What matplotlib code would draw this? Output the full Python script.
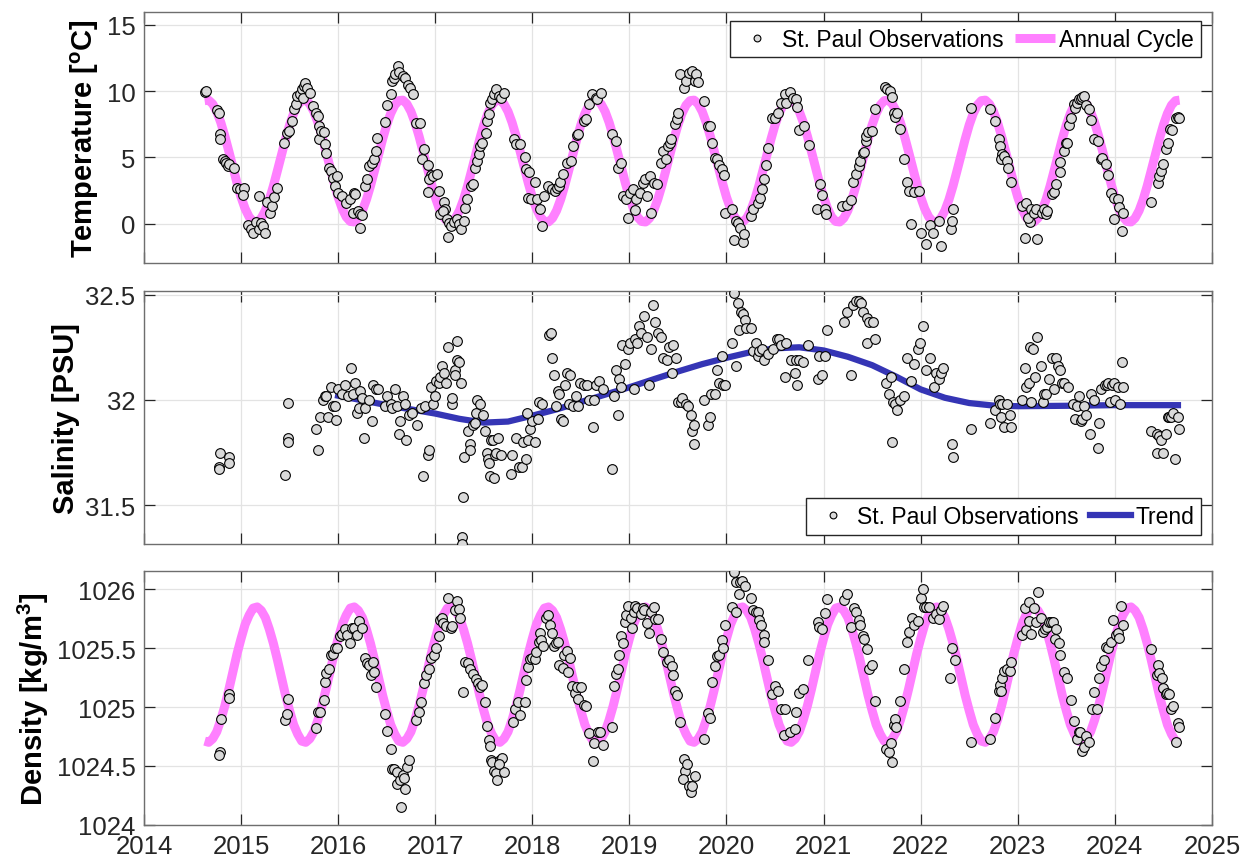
import matplotlib
matplotlib.use("Agg")
import matplotlib.pyplot as plt
import numpy as np

plt.rcParams['font.family'] = ['Liberation Sans', 'DejaVu Sans']
plt.rcParams['mathtext.fontset'] = 'custom'
plt.rcParams['mathtext.rm'] = 'Liberation Sans:bold'
plt.rcParams['mathtext.bf'] = 'Liberation Sans:bold'

# ---- temperature observations (decimal year, degC)
temp_t = [2014.63, 2014.64, 2014.755, 2014.77, 2014.78, 2014.78, 2014.81, 2014.83, 2014.85, 2014.865,
          2014.88, 2014.93, 2014.96, 2014.99, 2015.03, 2015.02, 2015.07, 2015.10, 2015.12, 2015.15,
          2015.18, 2015.21, 2015.23, 2015.25, 2015.18, 2015.27, 2015.30, 2015.32, 2015.34, 2015.37,
          2015.44, 2015.47, 2015.49, 2015.53, 2015.55, 2015.57, 2015.58, 2015.61, 2015.63, 2015.64,
          2015.65, 2015.66, 2015.68, 2015.71, 2015.74, 2015.77, 2015.79, 2015.80, 2015.80, 2015.82,
          2015.85, 2015.86, 2015.88, 2015.91, 2015.93, 2015.95, 2015.97, 2015.99, 2016.00, 2016.04,
          2016.08, 2016.12, 2016.16, 2016.17, 2016.15, 2016.20, 2016.23, 2016.25, 2016.23, 2016.28,
          2016.30, 2016.32, 2016.35, 2016.37, 2016.39, 2016.40, 2016.48, 2016.50, 2016.54, 2016.56,
          2016.58, 2016.59, 2016.62, 2016.63, 2016.67, 2016.69, 2016.72, 2016.74, 2016.77, 2016.80,
          2016.84, 2016.88, 2016.86, 2016.93, 2016.96, 2016.94, 2016.98, 2017.02, 2016.93, 2017.04,
          2017.09, 2017.10, 2017.05, 2017.08, 2017.12, 2017.14, 2017.16, 2017.19, 2017.22, 2017.24,
          2017.27, 2017.30, 2017.13, 2017.31, 2017.33, 2017.37, 2017.39, 2017.41, 2017.43, 2017.45,
          2017.46, 2017.48, 2017.52, 2017.53, 2017.55, 2017.56, 2017.59, 2017.61, 2017.63, 2017.66,
          2017.68, 2017.71, 2017.81, 2017.83, 2017.87, 2017.92, 2017.93, 2017.97, 2017.96, 2017.99,
          2018.03, 2018.05, 2018.08, 2018.10, 2018.12, 2018.16, 2018.20, 2018.23, 2018.25, 2018.28,
          2018.29, 2018.32, 2018.36, 2018.40, 2018.42, 2018.46, 2018.47, 2018.53, 2018.55, 2018.58,
          2018.62, 2018.66, 2018.67, 2018.71, 2018.82, 2018.86, 2018.88, 2018.91, 2018.93, 2018.97,
          2019.01, 2019.04, 2019.07, 2019.11, 2019.14, 2019.18, 2019.16, 2019.21, 2019.25, 2019.28,
          2018.99, 2019.06, 2019.22, 2019.33, 2019.35, 2019.38, 2019.40, 2019.42, 2019.43, 2019.47,
          2019.49, 2019.50, 2019.52, 2019.56, 2019.58, 2019.61, 2019.65, 2019.68, 2019.69, 2019.71,
          2019.77, 2019.81, 2019.83, 2019.85, 2019.88, 2019.90, 2019.92, 2019.95, 2019.97, 2019.98,
          2020.06, 2020.10, 2020.12, 2020.14, 2020.08, 2020.17, 2020.18, 2020.25, 2020.27, 2020.32,
          2020.35, 2020.37, 2020.39, 2020.41, 2020.43, 2020.47, 2020.50, 2020.53, 2020.56, 2020.60,
          2020.61, 2020.65, 2020.69, 2020.72, 2020.73, 2020.75, 2020.80, 2020.85, 2020.96, 2020.98,
          2020.93, 2021.01, 2021.03, 2021.19, 2021.24, 2021.28, 2021.30, 2021.33, 2021.36, 2021.38,
          2021.41, 2021.42, 2021.44, 2021.44, 2021.46, 2021.50, 2021.53, 2021.63, 2021.65, 2021.68,
          2021.70, 2021.73, 2021.74, 2021.76, 2021.79, 2021.83, 2021.86, 2021.88, 2021.93, 2021.98,
          2021.90, 2022.00, 2022.05, 2022.10, 2022.13, 2022.19, 2022.21, 2022.31, 2022.32, 2022.33,
          2022.52, 2022.71, 2022.77, 2022.81, 2022.82, 2022.84, 2022.83, 2022.86, 2022.89, 2022.90,
          2022.93, 2023.04, 2023.07, 2023.09, 2023.13, 2023.11, 2023.14, 2023.17, 2023.19, 2023.20,
          2023.25, 2023.27, 2023.29, 2023.30, 2023.35, 2023.37, 2023.39, 2023.44, 2023.44, 2023.48,
          2023.50, 2023.51, 2023.53, 2023.55, 2023.58, 2023.59, 2023.61, 2023.63, 2023.65, 2023.66,
          2023.68, 2023.70, 2023.73, 2023.75, 2023.79, 2023.83, 2023.86, 2023.87, 2023.91, 2023.93,
          2023.96, 2023.99, 2024.03, 2024.04, 2023.99, 2024.07, 2024.08, 2024.37, 2024.44, 2024.46,
          2024.48, 2024.50, 2024.53, 2024.55, 2024.57, 2024.59, 2024.63, 2024.65, 2024.66]
temp_v = [9.92, 10.0, 8.6, 8.37, 6.73, 6.36, 4.9, 4.72, 4.6, 4.35,
          4.47, 4.17, 2.71, 2.59, 2.71, 2.14, -0.13, -0.43, -0.68, 0.13,
          -0.43, 0.08, -0.18, -0.68, 2.09, 1.63, 0.83, 1.33, 2.04, 2.71,
          6.1, 6.86, 6.98, 7.74, 8.62, 9.0, 9.62, 9.8, 10.13, 9.5,
          10.38, 10.63, 10.25, 9.87, 8.87, 8.37, 8.12, 7.36, 6.36, 6.98,
          6.91, 5.98, 5.3, 4.22, 3.97, 3.47, 2.84, 3.59, 2.34, 2.09,
          1.58, 1.83, 2.34, 2.26, 0.83, 0.95, 0.7, 0.63, -0.3, 2.84,
          3.34, 4.35, 4.6, 4.85, 5.48, 6.48, 7.66, 8.92, 9.75, 10.75,
          11.0, 11.26, 11.93, 11.43, 11.13, 11.0, 10.5, 10.25, 9.8, 7.56,
          7.56, 5.65, 4.9, 4.4, 3.64, 3.34, 3.59, 3.72, 2.39, 2.46,
          1.63, 1.13, 0.7, 0.95, 0.33, 0.08, -0.18, 0.13, 0.33, -0.05,
          -0.38, 0.2, -1.0, 1.2, 1.83, 2.84, 2.96, 4.22, 4.72, 5.23,
          5.86, 6.1, 6.86, 7.74, 8.24, 9.12, 9.37, 9.75, 10.13, 9.62,
          9.5, 9.87, 6.36, 5.98, 5.98, 5.05, 4.1, 3.89, 1.96, 1.88,
          3.14, 1.83, 1.08, -0.18, 2.09, 2.84, 2.59, 2.46, 2.71, 2.84,
          3.14, 3.72, 4.6, 4.72, 5.85, 6.66, 6.73, 7.74, 7.86, 9.0,
          9.75, 9.5, 9.37, 9.87, 6.73, 6.23, 4.22, 4.6, 2.09, 1.83,
          2.34, 2.59, 1.83, 2.34, 3.09, 2.09, 3.34, 3.59, 3.09, 2.96,
          0.45, 1.03, 0.83, 4.6, 5.48, 4.85, 5.85, 6.1, 6.36, 7.49,
          7.86, 8.37, 11.26, 10.25, 10.75, 11.38, 11.5, 10.75, 11.26, 10.68,
          9.25, 7.36, 7.4, 6.06, 4.97, 4.85, 4.42, 4.1, 3.64, 0.83,
          1.08, 0.2, 0.03, -0.3, -1.23, -1.38, -0.8, 0.58, 1.08, 1.58,
          1.96, 2.59, 3.34, 4.42, 5.73, 8.0, 8.0, 8.37, 9.07, 9.75,
          9.12, 9.92, 9.5, 9.37, 8.82, 7.03, 7.36, 5.9, 2.96, 2.14,
          1.13, 1.13, 0.7, 1.33, 1.38, 1.76, 3.17, 3.72, 4.35, 4.72,
          5.3, 5.43, 6.23, 6.6, 6.9, 6.98, 8.67, 10.33, 10.18, 10.0,
          9.57, 8.37, 8.07, 8.32, 7.11, 4.9, 3.14, 2.46, 2.39, 2.46,
          -0.05, -0.68, -1.56, -0.13, -0.68, 0.2, -1.68, -0.43, 0.2, 1.13,
          8.74, 8.67, 7.74, 6.36, 5.85, 5.23, 4.85, 5.1, 4.72, 4.22,
          3.14, 1.33, -1.06, 1.53, 0.13, 0.45, 1.08, 0.83, 1.13, -1.18,
          0.83, 1.13, 0.7, 0.95, 2.21, 2.39, 2.96, 3.89, 4.65, 5.48,
          6.06, 6.06, 7.41, 8.0, 9.0, 8.74, 9.07, 9.37, 9.37, 9.57,
          9.62, 8.92, 8.67, 7.81, 6.41, 6.23, 4.9, 4.97, 4.47, 3.64,
          2.34, 1.96, 1.83, 1.28, 0.33, -0.55, 0.83, 1.63, 3.09, 3.59,
          3.97, 4.47, 5.6, 6.1, 7.11, 7.03, 8.0, 8.07, 8.0]

# annual cycles, values at half-month steps through the year
cycle_phase = [k / 24 for k in range(24)]
temp_cycle = [2.00, 1.13, 0.50, 0.16, 0.12, 0.41, 0.98, 1.81, 2.84, 4.00, 5.20, 6.37,
              7.44, 8.31, 8.94, 9.28, 9.32, 9.03, 8.46, 7.63, 6.60, 5.44, 4.24, 3.07]
dens_cycle = [1025.58, 1025.70, 1025.78, 1025.84, 1025.85, 1025.82, 1025.76, 1025.66,
              1025.54, 1025.40, 1025.25, 1025.10, 1024.97, 1024.85, 1024.77, 1024.71,
              1024.70, 1024.73, 1024.79, 1024.89, 1025.01, 1025.15, 1025.30, 1025.45]
cycle_start, cycle_end = 2014.62, 2024.67

# ---- salinity observations (PSU)
sal_t = [2014.78, 2014.77, 2014.775, 2014.88, 2014.88, 2015.45, 2015.48, 2015.48, 2015.48, 2015.77,
         2015.79, 2015.81, 2015.84, 2015.86, 2015.88, 2015.90, 2015.93, 2015.95, 2015.97, 2015.98,
         2016.00, 2016.04, 2016.07, 2016.10, 2016.13, 2016.15, 2016.17, 2016.19, 2016.21, 2016.23,
         2016.25, 2016.27, 2016.28, 2016.32, 2016.35, 2016.36, 2016.39, 2016.41, 2016.48, 2016.50,
         2016.54, 2016.56, 2016.59, 2016.61, 2016.63, 2016.64, 2016.67, 2016.69, 2016.70, 2016.73,
         2016.76, 2016.81, 2016.85, 2016.87, 2016.89, 2016.93, 2016.94, 2016.96, 2016.98, 2017.00,
         2017.01, 2017.04, 2017.05, 2017.07, 2017.09, 2017.11, 2017.13, 2017.17, 2017.17, 2017.20,
         2017.20, 2017.22, 2017.22, 2017.24, 2017.27, 2017.29, 2017.28, 2017.28, 2017.30, 2017.34,
         2017.36, 2017.36, 2017.39, 2017.41, 2017.42, 2017.43, 2017.46, 2017.49, 2017.51, 2017.53,
         2017.54, 2017.55, 2017.57, 2017.60, 2017.62, 2017.63, 2017.65, 2017.68, 2017.56, 2017.61,
         2017.78, 2017.79, 2017.83, 2017.86, 2017.89, 2017.90, 2017.93, 2017.96, 2017.98, 2018.00,
         2018.03, 2018.06, 2017.95, 2018.07, 2018.10, 2018.17, 2018.19, 2018.20, 2018.22, 2018.24,
         2018.26, 2018.27, 2018.30, 2018.32, 2018.34, 2018.36, 2018.38, 2018.39, 2018.42, 2018.45,
         2018.47, 2018.49, 2018.53, 2018.56, 2018.58, 2018.63, 2018.64, 2018.66, 2018.69, 2018.73,
         2018.82, 2018.84, 2018.86, 2018.88, 2018.89, 2018.91, 2018.95, 2018.92, 2018.99, 2019.01,
         2019.05, 2019.06, 2019.08, 2019.10, 2019.12, 2019.15, 2019.18, 2019.20, 2019.22, 2019.24,
         2019.26, 2019.29, 2019.33, 2019.35, 2019.39, 2019.41, 2019.44, 2019.45, 2019.48, 2019.50,
         2019.53, 2019.54, 2019.58, 2019.60, 2019.63, 2019.65, 2019.67, 2019.67, 2019.77, 2019.81,
         2019.83, 2019.84, 2019.88, 2019.90, 2019.92, 2019.95, 2019.96, 2019.98, 2020.06, 2020.08,
         2020.10, 2020.12, 2020.13, 2020.15, 2020.17, 2020.19, 2020.20, 2020.25, 2020.27, 2020.30,
         2020.32, 2020.34, 2020.37, 2020.39, 2020.43, 2020.48, 2020.52, 2020.54, 2020.56, 2020.60,
         2020.61, 2020.66, 2020.71, 2020.72, 2020.73, 2020.75, 2020.79, 2020.84, 2020.94, 2020.98,
         2020.95, 2021.01, 2021.04, 2021.21, 2021.24, 2021.28, 2021.30, 2021.33, 2021.36, 2021.39,
         2021.41, 2021.45, 2021.47, 2021.45, 2021.51, 2021.53, 2021.64, 2021.67, 2021.69, 2021.70,
         2021.71, 2021.74, 2021.76, 2021.79, 2021.83, 2021.86, 2021.90, 2021.93, 2021.97, 2021.99,
         2022.02, 2022.05, 2022.10, 2022.14, 2022.16, 2022.19, 2022.21, 2022.23, 2022.32, 2022.33,
         2022.52, 2022.71, 2022.77, 2022.81, 2022.82, 2022.83, 2022.84, 2022.86, 2022.89, 2022.92,
         2022.93, 2023.04, 2023.07, 2023.09, 2023.12, 2023.13, 2023.14, 2023.16, 2023.18, 2023.20,
         2023.24, 2023.26, 2023.27, 2023.29, 2023.32, 2023.35, 2023.37, 2023.39, 2023.41, 2023.44,
         2023.46, 2023.48, 2023.52, 2023.57, 2023.59, 2023.61, 2023.63, 2023.65, 2023.66, 2023.68,
         2023.70, 2023.74, 2023.75, 2023.79, 2023.83, 2023.84, 2023.86, 2023.90, 2023.92, 2023.93,
         2023.95, 2023.97, 2023.99, 2024.00, 2024.03, 2024.05, 2024.07, 2024.08, 2024.37, 2024.43,
         2024.43, 2024.46, 2024.48, 2024.50, 2024.53, 2024.55, 2024.56, 2024.58, 2024.60, 2024.62,
         2024.65, 2024.66]
sal_v = [31.75, 31.68, 31.67, 31.73, 31.70, 31.645, 31.985, 31.82, 31.80, 31.86,
         31.76, 31.92, 32.00, 32.02, 32.02, 31.92, 32.06, 31.97, 31.97, 31.905,
         32.05, 32.03, 32.07, 32.02, 32.15, 32.03, 32.08, 31.94, 31.96, 32.04,
         32.01, 31.82, 31.96, 32.00, 31.90, 32.07, 32.05, 32.05, 31.97, 32.02,
         31.98, 31.96, 32.05, 31.97, 31.84, 31.90, 32.02, 31.98, 31.81, 31.93,
         31.94, 31.88, 31.96, 31.64, 31.97, 31.74, 31.76, 32.06, 31.98, 32.02,
         32.09, 32.08, 32.11, 32.16, 32.13, 32.08, 32.25, 31.98, 32.01, 32.14,
         32.12, 32.28, 32.19, 32.18, 32.08, 31.54, 31.35, 31.315, 31.73, 31.85,
         31.79, 31.76, 31.88, 31.89, 31.94, 32.00, 31.98, 31.93, 31.85, 31.75,
         31.72, 31.70, 31.81, 31.81, 31.74, 31.75, 31.82, 31.74, 31.64, 31.63,
         31.65, 31.74, 31.82, 31.68, 31.68, 31.80, 31.72, 31.81, 31.86, 31.90,
         31.80, 31.91, 31.94, 31.99, 31.98, 32.31, 32.32, 32.20, 32.12, 31.97,
         32.04, 32.03, 31.91, 31.90, 32.07, 32.13, 31.98, 32.12, 31.97, 32.02,
         31.97, 32.08, 32.07, 32.07, 32.00, 31.87, 32.00, 32.07, 32.09, 32.05,
         31.67, 32.02, 32.14, 31.93, 32.10, 32.06, 32.17, 32.26, 32.24, 32.27,
         32.05, 32.29, 32.27, 32.35, 32.32, 32.40, 32.30, 32.07, 32.24, 32.45,
         32.37, 32.32, 32.30, 32.20, 32.19, 32.25, 32.13, 32.26, 32.20, 31.99,
         31.99, 32.01, 31.98, 31.97, 31.93, 31.85, 31.88, 31.79, 32.00, 31.88,
         31.92, 32.03, 32.03, 32.14, 32.08, 32.21, 32.07, 32.07, 32.27, 32.51,
         32.16, 32.46, 32.33, 32.42, 32.41, 32.38, 32.34, 32.34, 32.23, 32.27,
         32.21, 32.23, 32.24, 32.19, 32.22, 32.24, 32.29, 32.29, 32.26, 32.11,
         32.27, 32.19, 32.13, 32.19, 32.07, 32.19, 32.18, 32.26, 32.10, 32.12,
         32.21, 32.21, 32.33, 32.37, 32.42, 32.12, 32.45, 32.47, 32.47, 32.46,
         32.42, 32.39, 32.37, 32.27, 32.37, 32.29, 32.08, 32.03, 32.11, 31.80,
         31.99, 31.98, 31.95, 32.00, 32.02, 32.20, 32.09, 32.17, 32.24, 32.27,
         32.35, 32.14, 32.20, 32.06, 32.13, 32.10, 32.13, 32.15, 31.79, 31.73,
         31.86, 31.89, 31.95, 32.00, 31.98, 31.92, 31.98, 31.87, 31.98, 31.93,
         31.87, 32.00, 32.15, 32.06, 32.08, 32.25, 31.99, 32.24, 32.11, 32.30,
         32.16, 31.99, 32.03, 32.03, 32.10, 32.20, 32.05, 32.20, 32.16, 32.14,
         32.08, 32.08, 32.06, 31.98, 31.91, 31.97, 32.02, 31.90, 31.91, 31.97,
         31.93, 31.84, 32.03, 32.00, 31.77, 31.89, 32.05, 32.07, 32.07, 32.08,
         31.99, 32.07, 32.08, 32.00, 32.06, 31.98, 32.18, 32.06, 31.85, 31.75,
         31.84, 31.83, 31.81, 31.75, 31.84, 31.92, 31.92, 31.92, 31.94, 31.72,
         31.92, 31.86]

# salinity trend
trend_t = [2016.0, 2016.25, 2016.5, 2016.75, 2017.0, 2017.25, 2017.5, 2017.75, 2018.0, 2018.25,
           2018.5, 2018.75, 2019.0, 2019.25, 2019.5, 2019.75, 2020.0, 2020.25, 2020.5, 2020.75,
           2021.0, 2021.25, 2021.5, 2021.75, 2022.0, 2022.25, 2022.5, 2022.75, 2023.0, 2023.5,
           2024.0, 2024.65]
trend_v = [32.02, 31.998, 31.975, 31.955, 31.935, 31.91, 31.892, 31.897, 31.925, 31.955,
           31.99, 32.025, 32.06, 32.098, 32.135, 32.17, 32.20, 32.227, 32.245, 32.25,
           32.235, 32.205, 32.165, 32.11, 32.05, 32.01, 31.985, 31.973, 31.97, 31.972,
           31.975, 31.975]

# ---- density observations (kg/m3)
dens_t = [2014.78, 2014.77, 2014.79, 2014.88, 2014.88, 2015.45, 2015.47, 2015.48, 2015.77, 2015.79,
          2015.81, 2015.85, 2015.87, 2015.88, 2015.91, 2015.93, 2015.95, 2015.97, 2015.99, 2016.02,
          2016.04, 2016.07, 2016.09, 2016.12, 2016.14, 2016.16, 2016.19, 2016.22, 2016.25, 2016.28,
          2016.30, 2016.32, 2016.34, 2016.36, 2016.37, 2016.39, 2016.48, 2016.50, 2016.54, 2016.56,
          2016.58, 2016.61, 2016.61, 2016.64, 2016.67, 2016.69, 2016.65, 2016.68, 2016.71, 2016.73,
          2016.80, 2016.83, 2016.85, 2016.88, 2016.91, 2016.94, 2016.96, 2016.99, 2017.01, 2017.04,
          2017.05, 2017.07, 2017.08, 2017.11, 2017.13, 2017.16, 2017.17, 2017.20, 2017.22, 2017.24,
          2017.26, 2017.29, 2017.31, 2017.34, 2017.36, 2017.39, 2017.42, 2017.44, 2017.46, 2017.48,
          2017.51, 2017.53, 2017.55, 2017.56, 2017.57, 2017.59, 2017.61, 2017.63, 2017.64, 2017.67,
          2017.69, 2017.71, 2017.66, 2017.80, 2017.82, 2017.85, 2017.87, 2017.92, 2017.93, 2017.96,
          2017.98, 2018.00, 2018.03, 2018.04, 2018.07, 2018.08, 2018.09, 2018.11, 2018.14, 2018.16,
          2018.18, 2018.20, 2018.22, 2018.24, 2018.26, 2018.28, 2018.32, 2018.33, 2018.36, 2018.37,
          2018.39, 2018.41, 2018.44, 2018.46, 2018.47, 2018.50, 2018.53, 2018.55, 2018.58, 2018.63,
          2018.64, 2018.68, 2018.70, 2018.73, 2018.82, 2018.84, 2018.86, 2018.88, 2018.89, 2018.91,
          2018.93, 2018.95, 2018.97, 2018.99, 2019.02, 2019.03, 2019.05, 2019.06, 2019.08, 2019.12,
          2019.14, 2019.15, 2019.18, 2019.20, 2019.22, 2019.25, 2019.26, 2019.29, 2019.33, 2019.35,
          2019.39, 2019.41, 2019.44, 2019.45, 2019.47, 2019.49, 2019.52, 2019.56, 2019.57, 2019.59,
          2019.55, 2019.61, 2019.63, 2019.65, 2019.68, 2019.77, 2019.81, 2019.83, 2019.85, 2019.88,
          2019.90, 2019.92, 2019.95, 2019.96, 2019.98, 2020.06, 2020.08, 2020.10, 2020.10, 2020.13,
          2020.14, 2020.16, 2020.19, 2020.25, 2020.27, 2020.30, 2020.32, 2020.34, 2020.36, 2020.39,
          2020.39, 2020.43, 2020.47, 2020.50, 2020.53, 2020.56, 2020.60, 2020.59, 2020.65, 2020.71,
          2020.72, 2020.75, 2020.79, 2020.84, 2020.94, 2020.95, 2020.98, 2021.01, 2021.04, 2021.21,
          2021.24, 2021.28, 2021.31, 2021.33, 2021.36, 2021.38, 2021.41, 2021.42, 2021.45, 2021.47,
          2021.50, 2021.53, 2021.64, 2021.67, 2021.69, 2021.70, 2021.73, 2021.74, 2021.75, 2021.79,
          2021.83, 2021.86, 2021.88, 2021.91, 2021.93, 2021.97, 2022.00, 2022.02, 2022.03, 2022.05,
          2022.09, 2022.13, 2022.16, 2022.19, 2022.21, 2022.23, 2022.32, 2022.35, 2022.30, 2022.52,
          2022.71, 2022.77, 2022.81, 2022.82, 2022.84, 2022.83, 2022.86, 2022.89, 2022.92, 2022.93,
          2023.04, 2023.07, 2023.09, 2023.12, 2023.12, 2023.14, 2023.17, 2023.19, 2023.21, 2023.24,
          2023.26, 2023.28, 2023.30, 2023.32, 2023.34, 2023.36, 2023.39, 2023.38, 2023.43, 2023.44,
          2023.48, 2023.51, 2023.55, 2023.58, 2023.61, 2023.63, 2023.64, 2023.66, 2023.68, 2023.70,
          2023.73, 2023.76, 2023.79, 2023.82, 2023.84, 2023.86, 2023.89, 2023.91, 2023.93, 2023.96,
          2023.98, 2024.01, 2024.03, 2024.04, 2024.06, 2024.08, 2024.37, 2024.44, 2024.43, 2024.46,
          2024.49, 2024.50, 2024.53, 2024.54, 2024.56, 2024.58, 2024.60, 2024.63, 2024.65, 2024.66]
dens_v = [1024.62, 1024.59, 1024.90, 1025.11, 1025.08, 1024.89, 1024.94, 1025.07, 1024.82, 1024.96,
          1024.96, 1025.06, 1025.21, 1025.29, 1025.32, 1025.44, 1025.45, 1025.50, 1025.50, 1025.60,
          1025.62, 1025.66, 1025.61, 1025.54, 1025.67, 1025.67, 1025.61, 1025.73, 1025.67, 1025.42,
          1025.37, 1025.36, 1025.27, 1025.38, 1025.30, 1025.17, 1024.94, 1024.80, 1024.64, 1024.47,
          1024.47, 1024.45, 1024.35, 1024.38, 1024.42, 1024.30, 1024.15, 1024.40, 1024.49, 1024.55,
          1024.89, 1024.96, 1025.04, 1025.20, 1025.27, 1025.32, 1025.42, 1025.44, 1025.50, 1025.60,
          1025.74, 1025.76, 1025.71, 1025.69, 1025.93, 1025.67, 1025.69, 1025.82, 1025.90, 1025.83,
          1025.76, 1025.13, 1025.38, 1025.37, 1025.32, 1025.28, 1025.24, 1025.20, 1025.17, 1025.19,
          1025.04, 1024.84, 1024.72, 1024.67, 1024.55, 1024.53, 1024.46, 1024.44, 1024.38, 1024.55,
          1024.57, 1024.45, 1024.52, 1024.87, 1024.98, 1025.04, 1024.93, 1025.04, 1025.23, 1025.34,
          1025.41, 1025.42, 1025.41, 1025.47, 1025.55, 1025.63, 1025.57, 1025.52, 1025.76, 1025.78,
          1025.70, 1025.63, 1025.52, 1025.54, 1025.55, 1025.36, 1025.33, 1025.44, 1025.48, 1025.30,
          1025.42, 1025.18, 1025.12, 1025.17, 1025.07, 1025.17, 1025.02, 1025.01, 1024.78, 1024.54,
          1024.69, 1024.79, 1024.79, 1024.68, 1024.83, 1025.18, 1025.28, 1025.32, 1025.44, 1025.60,
          1025.54, 1025.72, 1025.78, 1025.86, 1025.76, 1025.67, 1025.81, 1025.86, 1025.84, 1025.79,
          1025.84, 1025.82, 1025.71, 1025.63, 1025.81, 1025.85, 1025.75, 1025.75, 1025.58, 1025.47,
          1025.38, 1025.40, 1025.35, 1025.27, 1025.14, 1025.10, 1024.87, 1024.56, 1024.46, 1024.52,
          1024.39, 1024.33, 1024.28, 1024.33, 1024.41, 1024.73, 1024.95, 1024.91, 1025.21, 1025.35,
          1025.43, 1025.44, 1025.57, 1025.50, 1025.70, 1025.85, 1026.15, 1025.81, 1026.06, 1025.96,
          1026.06, 1026.07, 1026.03, 1025.93, 1025.82, 1025.81, 1025.81, 1025.74, 1025.70, 1025.61,
          1025.55, 1025.40, 1025.11, 1025.18, 1025.14, 1024.98, 1024.98, 1024.76, 1024.79, 1024.81,
          1024.96, 1025.12, 1025.15, 1025.40, 1025.72, 1025.68, 1025.66, 1025.80, 1025.92, 1025.91,
          1025.96, 1025.68, 1025.84, 1025.81, 1025.74, 1025.70, 1025.60, 1025.58, 1025.49, 1025.32,
          1025.36, 1025.05, 1024.64, 1024.62, 1024.69, 1024.53, 1024.85, 1024.90, 1024.83, 1025.05,
          1025.32, 1025.55, 1025.64, 1025.76, 1025.70, 1025.73, 1025.93, 1026.00, 1025.85, 1025.85,
          1025.85, 1025.76, 1025.79, 1025.75, 1025.82, 1025.86, 1025.50, 1025.40, 1025.25, 1024.70,
          1024.73, 1024.91, 1025.14, 1025.19, 1025.25, 1025.14, 1025.31, 1025.32, 1025.31, 1025.38,
          1025.61, 1025.84, 1025.65, 1025.73, 1025.89, 1025.62, 1025.84, 1025.72, 1025.98, 1025.76,
          1025.64, 1025.66, 1025.68, 1025.72, 1025.72, 1025.72, 1025.66, 1025.58, 1025.54, 1025.44,
          1025.30, 1025.25, 1025.06, 1024.88, 1024.73, 1024.79, 1024.79, 1024.63, 1024.66, 1024.75,
          1024.70, 1024.98, 1025.13, 1024.98, 1025.25, 1025.35, 1025.40, 1025.51, 1025.50, 1025.55,
          1025.74, 1025.61, 1025.63, 1025.59, 1025.86, 1025.70, 1025.49, 1025.36, 1025.27, 1025.29,
          1025.25, 1025.16, 1025.11, 1025.12, 1025.11, 1024.98, 1025.01, 1024.70, 1024.86, 1024.83]

years = list(range(2014, 2025))
xticks = list(range(2014, 2026))


def tile_cycle(vals):
    t, v = [], []
    for yr in years:
        for ph, val in zip(cycle_phase, vals):
            if cycle_start <= yr + ph <= cycle_end:
                t.append(yr + ph)
                v.append(val)
    return t, v


MAG = '#ff80ff'
BLUE = '#3535b5'
GREY = '#d9d9d9'
marker_kw = dict(ls='none', marker='o', ms=7, mfc=GREY, mec='black', mew=0.8)
leg_kw = dict(ncol=2, fontsize=16.5, fancybox=False, edgecolor='#262626', framealpha=1,
              handlelength=1.75, handletextpad=0.2, columnspacing=0.5, borderpad=0.3,
              markerscale=0.7, borderaxespad=0)

fig = plt.figure(figsize=(12.43, 8.62), dpi=100)
ax1 = fig.add_axes([0.1158, 0.6934, 0.8592, 0.2919])
ax2 = fig.add_axes([0.1158, 0.3677, 0.8592, 0.2932])
ax3 = fig.add_axes([0.1158, 0.0421, 0.8592, 0.2940])

ct, cv = tile_cycle(temp_cycle)
l1, = ax1.plot(ct, cv, color=MAG, lw=6.5, zorder=2, solid_capstyle='butt')
o1, = ax1.plot(temp_t, temp_v, zorder=3, **marker_kw)
ax1.set_ylim(-3, 16)
ax1.set_yticks([0, 5, 10, 15])
ax1.set_ylabel(r'Temperature [$^{\mathbf{o}}$C]', fontsize=21, fontweight='bold')
ax1.legend([o1, l1], ['St. Paul Observations', 'Annual Cycle'], loc='upper right',
           bbox_to_anchor=(0.9897, 0.964), **leg_kw)

l2, = ax2.plot(trend_t, trend_v, color=BLUE, lw=4.5, zorder=2)
o2, = ax2.plot(sal_t, sal_v, zorder=3, **marker_kw)
ax2.set_ylim(31.315, 32.516)
ax2.set_yticks([31.5, 32, 32.5])
ax2.set_yticklabels(['31.5', '32', '32.5'])
ax2.set_ylabel('Salinity [PSU]', fontsize=21, fontweight='bold')
ax2.legend([o2, l2], ['St. Paul Observations', 'Trend'], loc='lower right',
           bbox_to_anchor=(0.9897, 0.0356), **leg_kw)

dt, dv = tile_cycle(dens_cycle)
ax3.plot(dt, dv, color=MAG, lw=6.5, zorder=2, solid_capstyle='butt')
ax3.plot(dens_t, dens_v, zorder=3, **marker_kw)
ax3.set_ylim(1024, 1026.153)
ax3.set_yticks([1024, 1024.5, 1025, 1025.5, 1026])
ax3.set_yticklabels(['1024', '1024.5', '1025', '1025.5', '1026'])
ax3.set_ylabel(r'Density [kg/m$^{\mathbf{3}}$]', fontsize=21, fontweight='bold')

for ax in (ax1, ax2, ax3):
    ax.set_xlim(2014, 2025)
    ax.set_xticks(xticks)
    ax.grid(True, color='#e3e3e3', lw=0.9)
    ax.set_axisbelow(True)
    ax.tick_params(direction='in', length=8, width=0.9, top=True, right=True,
                   labelsize=18.5, colors='#262626')
    ax.tick_params(axis='x', pad=7)
    ax.tick_params(axis='y', pad=6)
    for s in ax.spines.values():
        s.set_color('#6e6e6e')
        s.set_linewidth(1.0)
ax1.set_xticklabels([])
ax2.set_xticklabels([])

fig.savefig('out.png', dpi=100)
